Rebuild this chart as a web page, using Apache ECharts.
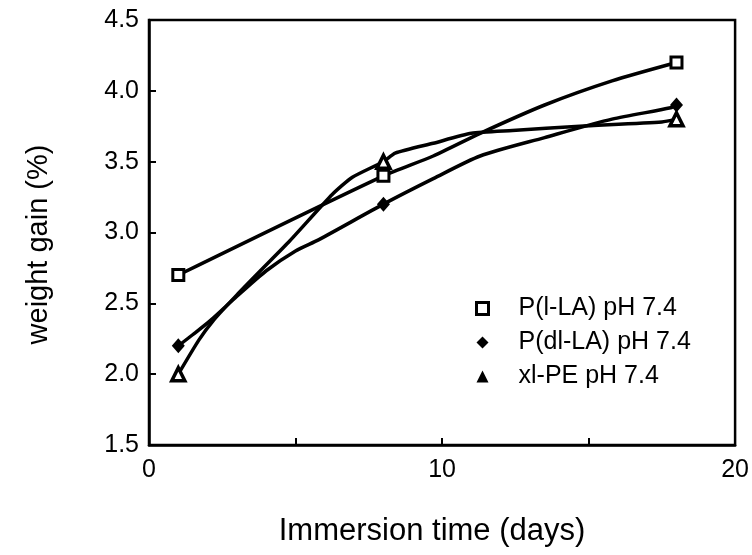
<!DOCTYPE html>
<html>
<head>
<meta charset="utf-8">
<script src="https://cdn.jsdelivr.net/npm/echarts@6/dist/echarts.min.js"></script>
<style>
html,body{margin:0;padding:0;background:#fff;}
#chart{width:752px;height:555px;}
</style>
</head>
<body>
<div id="chart"></div>
<script>
// Measured points (markers)
const days = [1, 8, 18];
const pLLA = [2.7, 3.4, 4.2];
const pDLLA = [2.2, 3.2, 3.9];
const xlPE = [2.0, 3.5, 3.8];

// Curves as drawn in the figure
const pLLACurveX = [1, 8, 9.7, 11.3, 13.5, 15.8, 18];
const pLLACurveY = [2.7, 3.4, 3.54, 3.7, 3.9, 4.07, 4.2];
const pDLLACurveX = [1, 1.5, 2.1, 3, 4, 5, 5.8, 8, 9.7, 11.3, 13.5, 15.8, 17.8, 18];
const pDLLACurveY = [2.2, 2.28, 2.38, 2.55, 2.73, 2.87, 2.95, 3.2, 3.38, 3.54, 3.67, 3.8, 3.88, 3.9];
const xlPECurveX = [1, 1.7, 2.2, 3, 3.8, 4.8, 6.26, 6.94, 8, 8.4, 9.7, 11, 12.4, 14.7, 17.5, 18];
const xlPECurveY = [2.0, 2.24, 2.38, 2.56, 2.73, 2.94, 3.27, 3.39, 3.5, 3.56, 3.63, 3.7, 3.72, 3.75, 3.78, 3.8];

const seriesNames = ['P(l-LA) pH 7.4', 'P(dl-LA) pH 7.4', 'xl-PE pH 7.4'];
const xTickLabels = ['0', '10', '20'];
const xTitle = 'Immersion time (days)';
const yTitle = 'weight gain (%)';

const zip = (xs, ys) => xs.map((x, i) => [x, ys[i]]);
const FONT = '"Liberation Sans", Arial, sans-serif';

const chart = echarts.init(document.getElementById('chart'), null, {renderer: 'canvas'});
const lineStyle = {color: '#000', width: 3.5};

chart.setOption({
  backgroundColor: '#fff',
  animation: false,
  grid: {left: 149, right: 15, top: 20, bottom: 110, show: true, borderColor: '#000', borderWidth: 2.5, backgroundColor: 'transparent'},
  legend: {
    orient: 'vertical',
    left: 470,
    top: 291,
    itemGap: 9,
    itemWidth: 12,
    itemHeight: 12,
    textStyle: {fontFamily: FONT, fontSize: 25, color: '#000', padding: [0, 0, 0, 25]},
    data: [
      {name: seriesNames[0], icon: 'rect', itemStyle: {color: '#fff', borderColor: '#000', borderWidth: 3, opacity: 1}},
      {name: seriesNames[1], icon: 'diamond', itemStyle: {color: '#000', borderWidth: 0, opacity: 1}},
      {name: seriesNames[2], icon: 'triangle', itemStyle: {color: '#000', borderWidth: 0, opacity: 1}}
    ]
  },
  xAxis: {
    type: 'value', min: 0, max: 20, interval: 5,
    name: xTitle, nameLocation: 'middle', nameGap: 71,
    nameTextStyle: {fontFamily: FONT, fontSize: 31, color: '#000', padding: [0, 20, 0, 0]},
    axisLine: {show: true, lineStyle: {color: '#000', width: 2.5}},
    axisTick: {show: true, inside: true, length: 7, lineStyle: {color: '#000', width: 2}},
    axisLabel: {
      fontFamily: FONT, fontSize: 25, color: '#000', margin: 13,
      formatter: v => (xTickLabels.indexOf(String(v)) >= 0 ? String(v) : '')
    },
    splitLine: {show: false}
  },
  yAxis: {
    type: 'value', min: 1.5, max: 4.5, interval: 0.5,
    name: yTitle, nameLocation: 'middle', nameGap: 96,
    nameTextStyle: {fontFamily: FONT, fontSize: 29, color: '#000', padding: [0, 24, 0, 0]},
    axisLine: {show: true, lineStyle: {color: '#000', width: 2.5}},
    axisTick: {show: true, inside: true, length: 7, lineStyle: {color: '#000', width: 2}},
    axisLabel: {fontFamily: FONT, fontSize: 25, color: '#000', margin: 10, formatter: v => v.toFixed(1)},
    splitLine: {show: false}
  },
  series: [
    {type: 'line', name: seriesNames[0] + ' curve', data: zip(pLLACurveX, pLLACurveY), showSymbol: false, smooth: 0.25, lineStyle: lineStyle, z: 2, silent: true},
    {type: 'line', name: seriesNames[1] + ' curve', data: zip(pDLLACurveX, pDLLACurveY), showSymbol: false, smooth: 0.25, lineStyle: lineStyle, z: 2, silent: true},
    {type: 'line', name: seriesNames[2] + ' curve', data: zip(xlPECurveX, xlPECurveY), showSymbol: false, smooth: 0.2, lineStyle: lineStyle, z: 2, silent: true},
    {type: 'scatter', name: seriesNames[0], data: zip(days, pLLA), symbol: 'rect', symbolSize: 11,
      itemStyle: {color: '#fff', borderColor: '#000', borderWidth: 3, opacity: 1}, z: 5},
    {type: 'scatter', name: seriesNames[1], data: zip(days, pDLLA), symbol: 'diamond', symbolSize: [13, 15],
      itemStyle: {color: '#000', opacity: 1}, z: 5},
    {type: 'scatter', name: seriesNames[2], data: zip(days, xlPE), symbol: 'triangle', symbolSize: 13,
      itemStyle: {color: '#fff', borderColor: '#000', borderWidth: 3.5, opacity: 1}, z: 5}
  ]
});
</script>
</body>
</html>
